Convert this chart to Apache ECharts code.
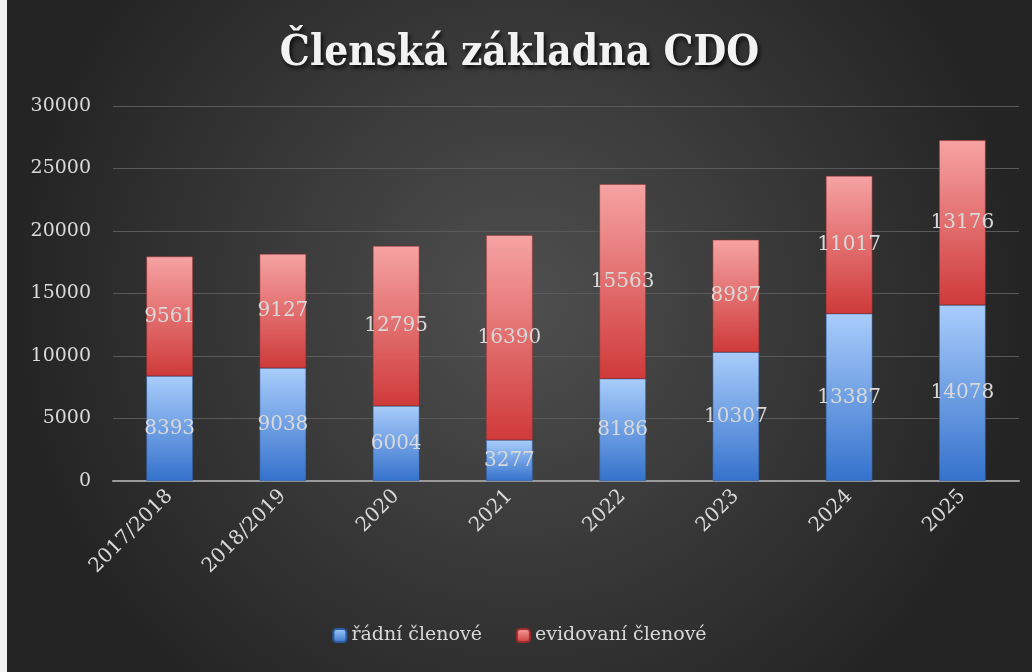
<!DOCTYPE html>
<html>
<head>
<meta charset="utf-8">
<script src="https://cdn.jsdelivr.net/npm/echarts@6/dist/echarts.min.js"></script>
<style>
  html, body { margin: 0; padding: 0; background: #f2f2f2; }
  #chart { position: absolute; left: 7px; top: 0; width: 1025px; height: 672px; }
</style>
</head>
<body>
<div id="chart"></div>
<script>
// data
var years = ['2017/2018', '2018/2019', '2020', '2021', '2022', '2023', '2024', '2025'];
var radni = [8393, 9038, 6004, 3277, 8186, 10307, 13387, 14078];
var evidovani = [9561, 9127, 12795, 16390, 15563, 8987, 11017, 13176];
var yTicks = { min: 0, max: 30000, step: 5000 };

var serif = '"DejaVu Serif", "Liberation Serif", serif';
var titleFont = '"DejaVu Serif Condensed", "Liberation Serif", serif';
var txt = '#d9d9d9';

function grad(top, bottom) {
    return new echarts.graphic.LinearGradient(0, 0, 0, 1, [
        { offset: 0, color: top },
        { offset: 1, color: bottom }
    ]);
}

var chart = echarts.init(document.getElementById('chart'));
chart.setOption({
    backgroundColor: new echarts.graphic.RadialGradient(0.5, 0.45, 0.75, [
        { offset: 0, color: '#4f4f4f' },
        { offset: 1, color: '#242424' }
    ]),
    title: {
        text: 'Členská základna CDO',
        left: 'center',
        top: 28,
        textStyle: {
            color: '#f2f2f2',
            fontFamily: titleFont,
            fontWeight: 'bold',
            fontSize: 42,
            textShadowColor: 'rgba(0,0,0,0.8)',
            textShadowBlur: 4,
            textShadowOffsetX: 2,
            textShadowOffsetY: 3
        }
    },
    legend: {
        bottom: 22,
        left: 'center',
        itemWidth: 13,
        itemHeight: 13,
        itemGap: 34,
        textStyle: { color: txt, fontFamily: serif, fontSize: 19 },
        data: ['řádní členové', 'evidovaní členové']
    },
    grid: { left: 106, right: 13, top: 106, bottom: 191, containLabel: false },
    xAxis: {
        type: 'category',
        data: years,
        axisTick: { show: false },
        axisLine: { lineStyle: { color: '#9a9a9a', width: 2 } },
        axisLabel: { color: txt, fontFamily: serif, fontSize: 20, rotate: 45, margin: 12 }
    },
    yAxis: {
        type: 'value',
        min: yTicks.min,
        max: yTicks.max,
        interval: yTicks.step,
        axisLine: { show: false },
        axisTick: { show: false },
        axisLabel: {
            color: txt, fontFamily: serif, fontSize: 19, margin: 22,
            formatter: function (v) { return String(v); }
        },
        splitLine: { lineStyle: { color: '#5a5a5a', width: 1 } }
    },
    series: [
        {
            name: 'řádní členové',
            type: 'bar',
            stack: 'total',
            barWidth: '41%',
            data: radni,
            itemStyle: {
                color: grad('#a9cdfb', '#3572cc'),
                borderColor: '#2c5d9e',
                borderWidth: 0.5
            },
            label: {
                show: true,
                position: 'inside',
                color: txt,
                fontFamily: serif,
                fontSize: 20
            }
        },
        {
            name: 'evidovaní členové',
            type: 'bar',
            stack: 'total',
            data: evidovani,
            itemStyle: {
                color: grad('#f6a3a3', '#cf3a3a'),
                borderColor: '#9e2c2c',
                borderWidth: 0.5
            },
            label: {
                show: true,
                position: 'inside',
                color: txt,
                fontFamily: serif,
                fontSize: 20
            }
        }
    ]
});
</script>
</body>
</html>
